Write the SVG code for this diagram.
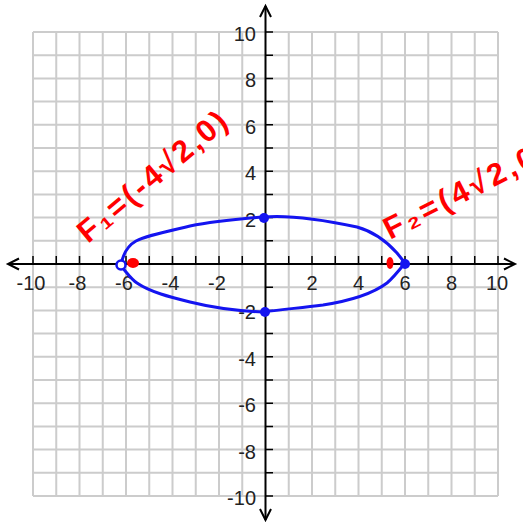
<svg xmlns="http://www.w3.org/2000/svg" width="523" height="522" viewBox="0 0 523 522">
<style>
.grid{stroke:#cccccc;stroke-width:2;fill:none}
.axis{stroke:#000;stroke-width:2;fill:none}
.tick{stroke:#000;stroke-width:1.5;fill:none}
.lbl{font-family:"Liberation Sans",Arial,sans-serif;font-size:20px;fill:#222}
.xl{text-anchor:middle}
.yl{text-anchor:end}
.curve{stroke:#1414f0;stroke-width:3;fill:none;stroke-linejoin:round;stroke-linecap:round}
.pt{fill:#1414f0}
.note{font-family:"Liberation Sans","DejaVu Sans",sans-serif;font-size:31px;font-weight:bold;fill:#ff0000}
</style>
<rect width="523" height="522" fill="#fff"/>
<g id="grid">
<path class="grid" d="M33 32V496M56.25 32V496M79.5 32V496M102.75 32V496M126 32V496M149.25 32V496M172.5 32V496M195.75 32V496M219 32V496M242.25 32V496M288.75 32V496M312 32V496M335.25 32V496M358.5 32V496M381.75 32V496M405 32V496M428.25 32V496M451.5 32V496M474.75 32V496M498 32V496
M33 32H498M33 55.2H498M33 78.4H498M33 101.6H498M33 124.8H498M33 148H498M33 171.2H498M33 194.4H498M33 217.6H498M33 240.8H498M33 287.2H498M33 310.4H498M33 333.6H498M33 356.8H498M33 380H498M33 403.2H498M33 426.4H498M33 449.6H498M33 472.8H498M33 496H498"/>
</g>
<g id="axes">
<path class="axis" d="M8 264H515M265.5 6V520"/>
<path class="axis" d="M19 258.5L8 264L19 269.5M504 258.5L515 264L504 269.5M260 17L265.5 6L271 17M260 509L265.5 520L271 509"/>
<path class="tick" d="M33 256V264M56.25 256V264M79.5 256V264M102.75 256V264M126 256V264M149.25 256V264M172.5 256V264M195.75 256V264M219 256V264M242.25 256V264M288.75 256V264M312 256V264M335.25 256V264M358.5 256V264M381.75 256V264M405 256V264M428.25 256V264M451.5 256V264M474.75 256V264M498 256V264
M265.5 32H273M265.5 55.2H273M265.5 78.4H273M265.5 101.6H273M265.5 124.8H273M265.5 148H273M265.5 171.2H273M265.5 194.4H273M265.5 217.6H273M265.5 240.8H273M265.5 287.2H273M265.5 310.4H273M265.5 333.6H273M265.5 356.8H273M265.5 380H273M265.5 403.2H273M265.5 426.4H273M265.5 449.6H273M265.5 472.8H273M265.5 496H273"/>
</g>
<g id="x-labels" class="lbl xl">
<text x="31" y="290">-10</text>
<text x="77.5" y="290">-8</text>
<text x="124" y="290">-6</text>
<text x="170.5" y="290">-4</text>
<text x="217" y="290">-2</text>
<text x="312" y="290">2</text>
<text x="358.5" y="290">4</text>
<text x="405" y="290">6</text>
<text x="451.5" y="290">8</text>
<text x="497" y="290">10</text>
</g>
<g id="y-labels" class="lbl yl">
<text x="256" y="40.5">10</text>
<text x="256" y="87">8</text>
<text x="256" y="133.5">6</text>
<text x="256" y="180">4</text>
<text x="256" y="226.5">2</text>
<text x="256" y="319">-2</text>
<text x="256" y="365.5">-4</text>
<text x="256" y="412">-6</text>
<text x="256" y="458.5">-8</text>
<text x="256" y="505">-10</text>
</g>
<g id="ellipse">
<path class="curve" d="M121 265C123 254 127 246 136 241C145 236 160 233 190 226C215 221 240 219 263 217C285 215 320 219 357 227C375 232 388 243 397 253L405 263C401 268 393 278 387 283C375 292 355 300 323 305C300 308 285 309 263 312C240 311 210 307 190 302C170 297 150 292 137 283C131 279 128 274 121 266Z"/>
</g>
<g id="points">
<circle class="pt" cx="264" cy="218" r="5"/>
<circle class="pt" cx="265" cy="312" r="5"/>
<circle class="pt" cx="405" cy="264" r="5"/>
<circle cx="121" cy="265" r="4.5" fill="#fff" stroke="#1414f0" stroke-width="2.5"/>
</g>
<g id="foci">
<ellipse cx="133" cy="263" rx="6" ry="5" fill="#ff0000"/>
<ellipse cx="390" cy="263" rx="3.5" ry="6" fill="#ff0000"/>
</g>
<g id="annotations">
<text class="note" x="88" y="244" transform="rotate(-40 88 244)" textLength="185" lengthAdjust="spacing">F₁=(-4√2,0)</text>
<text class="note" x="390" y="240" transform="rotate(-27 390 240)" textLength="180" lengthAdjust="spacing">F₂=(4√2,0)</text>
</g>
</svg>
